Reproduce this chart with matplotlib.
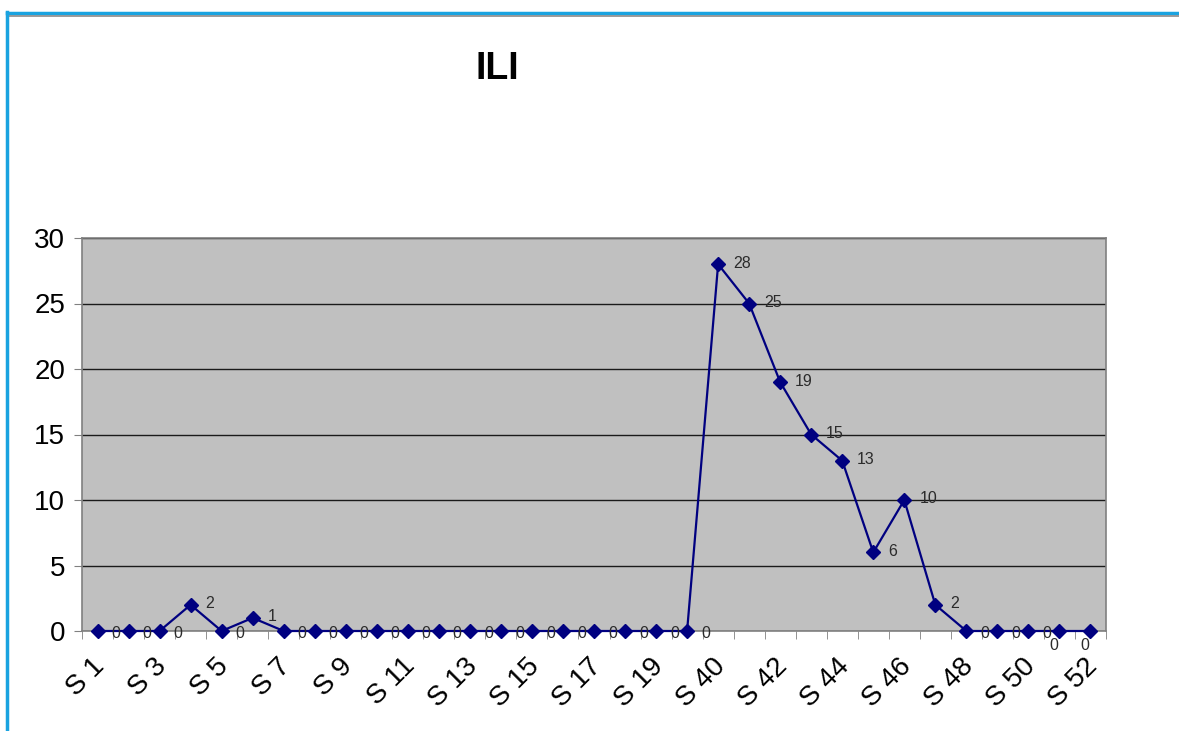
import matplotlib
matplotlib.use("Agg")
import matplotlib.pyplot as plt
from matplotlib.lines import Line2D
from matplotlib.transforms import ScaledTranslation

# Weekly ILI counts
weeks = [f"S {i}" for i in range(1, 21)] + [f"S {i}" for i in range(40, 53)]
ili_cases = [0, 0, 0, 2, 0, 1, 0, 0, 0, 0, 0, 0, 0, 0, 0, 0, 0, 0, 0, 0,
             28, 25, 19, 15, 13, 6, 10, 2, 0, 0, 0, 0, 0]
y_ticks = [0, 5, 10, 15, 20, 25, 30]
title_text = "ILI"

plt.rcParams["font.family"] = ["Liberation Sans", "DejaVu Sans"]

fig = plt.figure(figsize=(11.79, 7.31), dpi=100)
fig.patch.set_facecolor("white")

W, H = 1179, 731
ax = fig.add_axes([82 / W, 1 - 631 / H, (1106 - 82) / W, (631 - 238) / H])
ax.set_facecolor("#c0c0c0")

x = list(range(len(weeks)))
ax.plot(x, ili_cases, color="#000080", lw=1.6, marker="D", ms=7,
        mfc="#000080", mec="#000080", zorder=3, clip_on=False)

# value labels beside each point
for i, v in enumerate(ili_cases):
    if i >= len(weeks) - 2:
        off = (-10, -14)
    elif v == 0:
        off = (14, -2)
    else:
        off = (15, 1)
    ax.annotate(str(v), (i, v), xytext=off, textcoords="offset pixels",
                ha="left", va="center", fontsize=11.5, color="#2b2b2b",
                zorder=4, annotation_clip=False)

ax.set_xlim(-0.5, len(weeks) - 0.5)
ax.set_ylim(0, 30)
ax.set_yticks(y_ticks)
ax.yaxis.grid(True, color="#1a1a1a", lw=1.0)
ax.set_axisbelow(True)

# category labels on every other week, tick marks between all categories
ax.set_xticks(x[::2])
ax.set_xticklabels(weeks[::2], rotation=45, ha="right", va="top",
                   rotation_mode="anchor", fontsize=20)
ax.tick_params(axis="x", which="major", length=0, pad=16)
shift = ScaledTranslation(-6 / 100, 0, fig.dpi_scale_trans)
for lbl in ax.get_xticklabels():
    lbl.set_transform(lbl.get_transform() + shift)
ax.set_xticks([i - 0.5 for i in range(len(weeks) + 1)], minor=True)
ax.tick_params(axis="x", which="minor", length=6, color="#808080", direction="out")
ax.tick_params(axis="y", length=6, color="#808080", labelsize=20, pad=6)

for side in ax.spines.values():
    side.set_color("#808080")
    side.set_linewidth(1.2)

fig.text(497 / W, 1 - 69 / H, title_text, ha="center", va="center",
         fontsize=27, fontweight="bold", color="black")

# frame lines around the chart
fig.add_artist(Line2D([7 / W, 1], [1 - 13 / H, 1 - 13 / H], color="#1aa3e0", lw=2.5,
                      transform=fig.transFigure))
fig.add_artist(Line2D([9 / W, 1], [1 - 15.5 / H, 1 - 15.5 / H], color="#8a8a8a", lw=1.2,
                      transform=fig.transFigure))
fig.add_artist(Line2D([7 / W, 7 / W], [0, 1 - 12 / H], color="#1aa3e0", lw=2.5,
                      transform=fig.transFigure))

fig.savefig("out.png", dpi=100, facecolor="white")
